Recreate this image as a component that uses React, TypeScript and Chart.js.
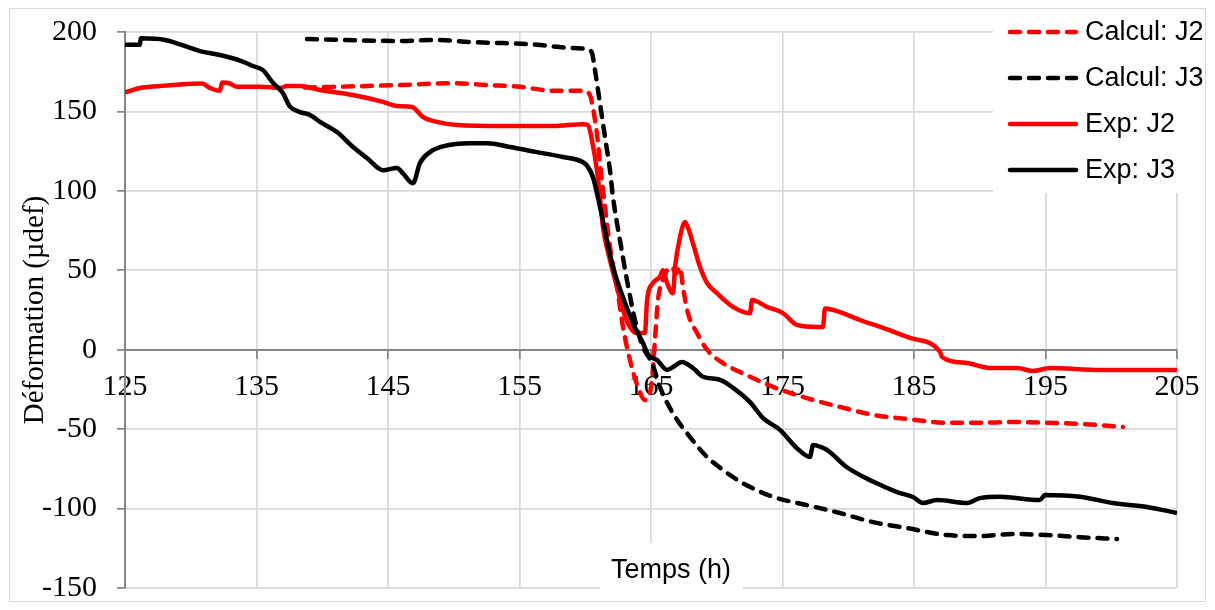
import React, { useEffect, useRef } from "react";
import { Chart, registerables } from "chart.js";

Chart.register(...registerables);

// ---- Data (time in h, deformation in µdef) ----
const calculJ2: [number, number][] = [
  [138.69, 165], [145.91, 166.6], [149.94, 167.8], [152.53, 166.6], [155.04, 165.5],
  [157.55, 163], [159.83, 163], [160.36, 160.3], [160.59, 152], [160.89, 136],
  [161.12, 117.5], [161.5, 89.8], [161.88, 64.7], [162.41, 39.5], [162.87, 14.3],
  [163.4, -6.5], [164.01, -23.5], [164.54, -31.7], [165.08, -19], [165.3, 6],
  [165.53, 31.3], [165.91, 44], [166.22, 50], [166.6, 52], [166.9, 48],
  [167.21, 52], [167.43, 39.5], [167.81, 23], [168.5, 10.5], [169.26, 0],
  [170.48, -8.5], [171.77, -14], [174.28, -23.4], [176.86, -30.5], [179.37, -36],
  [181.88, -41], [184.92, -44], [187.51, -46], [190.02, -46], [192.53, -45.5],
  [195.11, -46], [197.62, -46.7], [200.89, -48.6],
];

const calculJ3: [number, number][] = [
  [138.84, 195.6], [145.91, 194.4], [148.73, 195], [151.24, 193.7], [153.75, 193],
  [156.33, 192], [158.84, 190], [160.13, 189.3], [160.51, 186.8], [160.74, 176],
  [161.12, 155], [161.5, 134], [161.88, 113], [162.11, 96], [162.64, 69],
  [163.17, 44], [163.78, 18.7], [164.39, 1.7], [165.08, -8.5], [165.68, -23.5],
  [166.67, -40], [167.97, -55], [169.26, -67.5], [170.48, -75.7], [171.77, -83],
  [174.28, -92.6], [176.86, -97.8], [179.37, -102.8], [181.88, -108.5], [184.47, -112.3],
  [187.51, -116.7], [190.02, -117.3], [192.53, -116], [195.11, -116.7], [197.62, -118],
  [200.44, -119.2],
];

const expJ2: [number, number][] = [
  [125.0, 162], [126.14, 164.8], [127.66, 166], [129.18, 167], [130.86, 167.6],
  [131.46, 164.8], [132.22, 163], [132.38, 168.2], [132.98, 167.6], [133.52, 165.5],
  [135.27, 165.5], [136.79, 164.8], [137.32, 166], [138.31, 166], [139.83, 163.5],
  [142.34, 160.3], [144.62, 156], [145.68, 153.4], [146.83, 152.8], [147.66, 146.5],
  [148.73, 143.4], [150.25, 141.4], [153.75, 140.8], [157.55, 140.8], [159.83, 142],
  [160.21, 141.4], [160.51, 131.9], [160.89, 113], [161.12, 96], [161.35, 77],
  [161.88, 56.5], [162.41, 39.5], [162.87, 25], [163.4, 14.3], [163.93, 10.5],
  [164.54, 10.5], [164.7, 31], [165.15, 42], [165.68, 46], [165.91, 50],
  [166.22, 42], [166.67, 35.6], [166.83, 52], [167.21, 71], [167.59, 80.4],
  [167.81, 77], [168.19, 67], [168.73, 52], [169.26, 42], [170.02, 35.6],
  [171.24, 27], [172.53, 23], [172.68, 31.3], [173.82, 27], [175.04, 23],
  [176.1, 15.6], [177.62, 14.3], [178.08, 14.3], [178.23, 26], [179.37, 23.7],
  [180.89, 18.7], [182.64, 13.7], [184.7, 7.4], [186.98, -1.4], [187.13, -4.6],
  [189.03, -8.4], [190.78, -11.5], [192.83, -11.5], [194.05, -13.4], [195.34, -11.5],
  [199.14, -12.7], [205.0, -12.7],
];

const expJ3: [number, number][] = [
  [125.0, 192], [126.14, 192], [126.2, 196], [128.04, 195], [130.7, 188],
  [132.22, 185.5], [133.75, 182], [134.73, 178.6], [135.49, 176], [136.25, 168],
  [137.0, 161.6], [137.55, 153], [138.3, 149.6], [139.07, 147.8], [139.83, 143.4],
  [141.12, 137], [142.34, 127.6], [143.4, 120.7], [144.62, 113], [145.68, 114.4],
  [146.14, 111], [146.9, 104.8], [147.43, 117.5], [148.19, 124.4], [149.18, 128],
  [151.24, 130], [152.53, 130], [154.28, 127.6], [156.33, 124.4], [158.31, 121.3],
  [159.83, 118], [160.21, 115], [160.59, 108.6], [161.12, 90], [161.65, 69],
  [162.11, 52], [162.87, 33], [163.63, 16.8], [164.39, 4.2], [164.77, -3],
  [165.46, -6.5], [166.22, -12.7], [166.67, -10.9], [167.36, -7.7], [168.19, -11.5],
  [168.95, -17], [170.25, -19], [171.24, -24], [172.53, -33], [173.52, -43],
  [174.81, -50.5], [176.1, -62], [177.09, -67.5], [177.32, -60], [177.85, -61],
  [178.38, -63], [179.9, -74], [181.88, -83], [183.71, -89.6], [184.92, -92.7],
  [185.68, -96.5], [186.75, -94.6], [189.03, -96.5], [190.02, -93.4], [191.54, -92.6],
  [194.58, -94.6], [194.96, -91.5], [197.62, -92.6], [200.13, -96.5], [202.72, -99],
  [205.0, -102.8],
];

const seriesLabels = ["Calcul: J2", "Calcul: J3", "Exp: J2", "Exp: J3"];
const xTickValues = [125, 135, 145, 155, 165, 175, 185, 195, 205];
const yTickValues = [-150, -100, -50, 0, 50, 100, 150, 200];
const xTitle = "Temps (h)";
const yTitle = "Déformation (µdef)";

const SANS = "'Liberation Sans', Arial, sans-serif";
const SERIF = "'Liberation Serif', 'Times New Roman', serif";

const toPoints = (arr: [number, number][]) => arr.map(([x, y]) => ({ x, y }));

const overlayPlugin = {
  id: "overlay",
  afterDraw(chart: any) {
    const ctx = chart.ctx as CanvasRenderingContext2D;
    const W = chart.width;
    const H = chart.height;
    ctx.save();
    // legend box
    ctx.fillStyle = "#ffffff";
    ctx.fillRect(985, 1, W - 986, 184);
    const rowY = [24, 70, 116, 162];
    chart.data.datasets.forEach((ds: any, i: number) => {
      const y = rowY[i];
      ctx.beginPath();
      ctx.strokeStyle = ds.borderColor;
      ctx.lineWidth = ds.borderWidth;
      ctx.lineCap = "round";
      ctx.setLineDash(ds.borderDash || []);
      ctx.moveTo(1002, y);
      ctx.lineTo(1068, y);
      ctx.stroke();
      ctx.setLineDash([]);
      ctx.fillStyle = "#000000";
      ctx.font = `27px ${SANS}`;
      ctx.textAlign = "left";
      ctx.textBaseline = "middle";
      ctx.fillText(ds.label, 1077, y + 1);
    });
    // x axis title box
    ctx.fillStyle = "#ffffff";
    ctx.fillRect(592, 535, 143, 54);
    ctx.fillStyle = "#000000";
    ctx.font = `27px ${SANS}`;
    ctx.textAlign = "center";
    ctx.textBaseline = "middle";
    ctx.fillText(xTitle, 663, 563);
    // outer border
    ctx.strokeStyle = "#d9d9d9";
    ctx.lineWidth = 1;
    ctx.strokeRect(1.5, 0.5, W - 3, H - 2);
    ctx.restore();
  },
};

export default function App() {
  const ref = useRef<HTMLCanvasElement>(null);

  useEffect(() => {
    if (!ref.current) return;
    const common = {
      pointRadius: 0,
      borderWidth: 4.5,
      borderJoinStyle: "round" as const,
      cubicInterpolationMode: "monotone" as const,
      fill: false,
    };
    const chart = new Chart(ref.current, {
      type: "line",
      data: {
        datasets: [
          {
            ...common,
            label: seriesLabels[0],
            data: toPoints(calculJ2),
            borderColor: "#ff0000",
            borderDash: [10, 9],
            borderCapStyle: "round",
            order: 3,
          },
          {
            ...common,
            label: seriesLabels[1],
            data: toPoints(calculJ3),
            borderColor: "#000000",
            borderDash: [10, 9],
            borderCapStyle: "round",
            order: 2,
          },
          {
            ...common,
            label: seriesLabels[2],
            data: toPoints(expJ2),
            borderColor: "#ff0000",
            order: 1,
          },
          {
            ...common,
            label: seriesLabels[3],
            data: toPoints(expJ3),
            borderColor: "#000000",
            order: 0,
          },
        ] as any,
      },
      options: {
        animation: false,
        responsive: false,
        maintainAspectRatio: false,
        layout: { padding: { left: 0, top: 24, right: 30, bottom: 15 } },
        plugins: {
          legend: { display: false },
          tooltip: { enabled: false },
        },
        scales: {
          x: {
            type: "linear",
            position: { y: 0 } as any,
            min: 125,
            max: 205,
            afterBuildTicks: (s: any) => {
              s.ticks = xTickValues.map((v) => ({ value: v }));
            },
            afterFit: (s: any) => {
              s.paddingLeft = 0;
              s.paddingRight = 0;
            },
            grid: {
              color: "#d9d9d9",
              lineWidth: 1.7,
              tickColor: "#868686",
              tickLength: 8,
            },
            border: { color: "#868686", width: 2 },
            ticks: {
              color: "#000000",
              font: { family: SERIF, size: 30, lineHeight: 1 },
              padding: 14,
              maxRotation: 0,
              autoSkip: false,
            },
          },
          y: {
            type: "linear",
            position: "left",
            min: -150,
            max: 200,
            afterBuildTicks: (s: any) => {
              s.ticks = yTickValues.map((v) => ({ value: v }));
            },
            afterFit: (s: any) => {
              s.width = 117;
              s.paddingTop = 0;
              s.paddingBottom = 0;
            },
            grid: {
              color: "#d9d9d9",
              lineWidth: 1.7,
              tickColor: "#868686",
              tickLength: 8,
            },
            border: { color: "#868686", width: 2 },
            ticks: {
              color: "#000000",
              font: { family: SERIF, size: 30, lineHeight: 1 },
              padding: 20,
            },
            title: {
              display: true,
              text: yTitle,
              color: "#000000",
              font: { family: SERIF, size: 29, lineHeight: 1.2 },
              padding: { top: 10, bottom: 0 },
            },
          },
        },
      },
      plugins: [overlayPlugin],
    });
    return () => chart.destroy();
  }, []);

  return (
    <canvas
      ref={ref}
      width={1199}
      height={595}
      style={{ display: "block", width: 1199, height: 595 }}
    />
  );
}
